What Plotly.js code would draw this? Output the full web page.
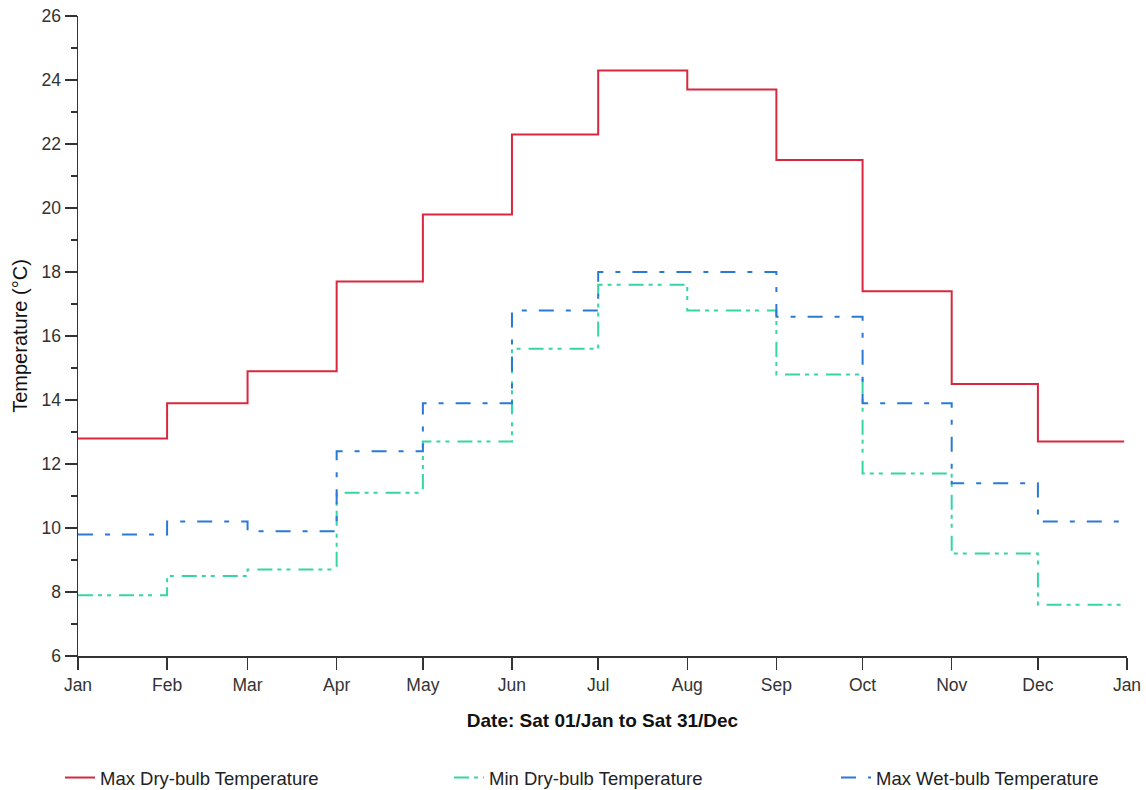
<!DOCTYPE html>
<html>
<head>
<meta charset="utf-8">
<script src="https://cdn.plot.ly/plotly-3.0.1.min.js"></script>
<style>html,body{margin:0;padding:0;background:#fff;}#chart{width:1146px;height:790px;}</style>
</head>
<body>
<div id="chart"></div>
<script>
// Month start dates (step changes happen at each month start)
const monthStarts = ['2022-01-01','2022-02-01','2022-03-01','2022-04-01','2022-05-01','2022-06-01',
                     '2022-07-01','2022-08-01','2022-09-01','2022-10-01','2022-11-01','2022-12-01'];
const periodEnd = '2022-12-31';

// Monthly values (°C)
const maxDryBulb = [12.8, 13.9, 14.9, 17.7, 19.8, 22.3, 24.3, 23.7, 21.5, 17.4, 14.5, 12.7];
const minDryBulb = [7.9, 8.5, 8.7, 11.1, 12.7, 15.6, 17.6, 16.8, 14.8, 11.7, 9.2, 7.6];
const maxWetBulb = [9.8, 10.2, 9.9, 12.4, 13.9, 16.8, 18.0, 18.0, 16.6, 13.9, 11.4, 10.2];

// Tick labels on the date axis
const tickDates = ['2022-01-01','2022-02-01','2022-03-01','2022-04-01','2022-05-01','2022-06-01',
                   '2022-07-01','2022-08-01','2022-09-01','2022-10-01','2022-11-01','2022-12-01','2023-01-01'];
const tickLabels = ['Jan','Feb','Mar','Apr','May','Jun','Jul','Aug','Sep','Oct','Nov','Dec','Jan'];

const seriesNames = ['Max Dry-bulb Temperature','Min Dry-bulb Temperature','Max Wet-bulb Temperature'];

function withEnd(vals){ return vals.concat([vals[vals.length-1]]); }
const xs = monthStarts.concat([periodEnd]);

const FONT = 'Liberation Sans, Arial, sans-serif';

const traces = [
  {x: xs, y: withEnd(maxDryBulb), name: seriesNames[0], mode: 'lines', legend: 'legend',
   line: {shape: 'hv', color: '#d8283f', width: 2}},
  {x: xs, y: withEnd(minDryBulb), name: seriesNames[1], mode: 'lines', legend: 'legend2',
   line: {shape: 'hv', color: '#35d6a4', width: 2, dash: '15px,5px,4px,5px,4px,8px'}},
  {x: xs, y: withEnd(maxWetBulb), name: seriesNames[2], mode: 'lines', legend: 'legend3',
   line: {shape: 'hv', color: '#2a79d4', width: 2, dash: '15px,12px,5px,12px'}}
];

function legendAt(px){
  return {orientation: 'h', x: (px - 78) / 1049, xanchor: 'left', y: (656 - 778) / 640, yanchor: 'middle',
          font: {family: FONT, size: 18.5, color: '#222'}, bgcolor: 'rgba(0,0,0,0)'};
}

const layout = {
  width: 1146, height: 790,
  margin: {l: 78, r: 19, t: 16, b: 134, autoexpand: false},
  paper_bgcolor: '#ffffff', plot_bgcolor: '#ffffff',
  font: {family: FONT, size: 17, color: '#222'},
  showlegend: true,
  legend: legendAt(60),
  legend2: legendAt(449),
  legend3: legendAt(836),
  xaxis: {
    type: 'date', range: ['2022-01-01', '2023-01-01'],
    tickmode: 'array', tickvals: tickDates, ticktext: tickLabels,
    ticks: 'outside', ticklen: 12, tickwidth: 1.5, tickcolor: '#333',
    showline: true, linecolor: '#333', linewidth: 1.5,
    showgrid: false, zeroline: false,
    tickfont: {family: FONT, size: 17.5, color: '#333'},
    title: {text: 'Date: Sat 01/Jan to Sat 31/Dec', font: {family: FONT, size: 19, color: '#111', weight: 'bold'}, standoff: 20}
  },
  yaxis: {
    range: [6, 26], dtick: 2, tick0: 6,
    ticks: 'outside', ticklen: 12, tickwidth: 1.5, tickcolor: '#333',
    minor: {dtick: 1, ticks: 'outside', ticklen: 6, tickwidth: 1.5, tickcolor: '#333', showgrid: false},
    showline: true, linecolor: '#333', linewidth: 1.5,
    showgrid: false, zeroline: false,
    tickfont: {family: FONT, size: 17.5, color: '#333'},
    title: {text: 'Temperature (°C)', font: {family: FONT, size: 20, color: '#111'}, standoff: 8}
  }
};

Plotly.newPlot('chart', traces, layout, {displayModeBar: false, staticPlot: true});
</script>
</body>
</html>
